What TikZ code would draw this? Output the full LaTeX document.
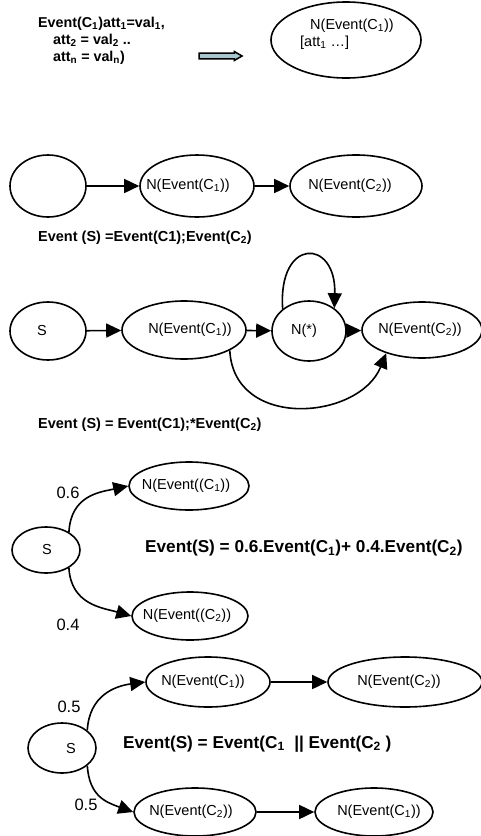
\documentclass[tikz,border=0pt]{standalone}
\usepackage{fontspec}
\setmainfont{Liberation Sans}
\usetikzlibrary{shapes.geometric,shapes.arrows,arrows.meta}
\definecolor{arrfill}{HTML}{A8C6CE}
\newcommand{\sub}[1]{\textsubscript{#1}}
\newcommand{\evt}[1]{N(Event(C\sub{#1}))}
\newcommand{\ctr}[2][0pt]{\makebox[0pt]{\hspace*{#1}\hspace*{#1}#2}}

\begin{document}
\begin{tikzpicture}[x=1pt,y=-1pt,
  ell/.style={draw,ellipse,line width=1.6pt,inner sep=0pt,font=\fontsize{14.5}{17}\selectfont},
  arr/.style={line width=1.6pt,-{Triangle[length=15pt,width=14pt]}},
  lab/.style={font=\bfseries\fontsize{14.5}{17}\selectfont,anchor=west,inner sep=0pt},
  biglab/.style={font=\bfseries\fontsize{17.2}{20}\selectfont,anchor=west,inner sep=0pt},
  num/.style={font=\fontsize{16.5}{20}\selectfont,inner sep=0pt}]
  \useasboundingbox (0,0) rectangle (481,836);

  % event with its attributes
  \node[align=left,anchor=north west,inner sep=0pt,font=\bfseries\fontsize{14.3}{17}\selectfont] (attr) at (38,17)
    {Event(C\sub1)att\sub1=val\sub1,\\\hspace*{15pt}att\sub2 = val\sub2 ..\\\hspace*{15pt}att\sub n = val\sub n)};
  \node[single arrow,draw,line width=1.5pt,fill=arrfill,minimum height=43pt,minimum width=7.5pt,
    inner sep=2.2pt,single arrow head extend=1.5pt,single arrow tip angle=60] (impl) at (218,56) {};
  \node[ell,minimum width=150,minimum height=76] (ev) at (346,40) {};
  \node[anchor=west,align=left,inner sep=0pt,font=\fontsize{14.5}{17}\selectfont] (evtxt) at (300,34)
    {\hspace*{10pt}\evt1\\{}[att\sub1 …]};

  % sequence
  \node[ell,minimum width=76,minimum height=62] (a1) at (48,186) {};
  \node[ell,minimum width=114,minimum height=62] (a2) at (197,186) {\ctr[-9pt]{\evt1}};
  \node[ell,minimum width=132,minimum height=62] (a3) at (356,186) {\ctr[-6pt]{\evt2}};
  \draw[arr] (a1) -- (a2);
  \draw[arr] (a2) -- (a3);
  \node[lab] (seq) at (38,238) {Event (S) =Event(C1);Event(C\sub2)};

  % iteration
  \node[ell,minimum width=76,minimum height=58] (b1) at (48,331) {\ctr[-6pt]{S}};
  \node[ell,minimum width=124,minimum height=58] (b2) at (184,330) {\ctr[6pt]{\evt1}};
  \node[ell,minimum width=74,minimum height=60] (b3) at (309,331) {\ctr[-5pt]{N(*)}};
  \node[ell,minimum width=120,minimum height=56] (b4) at (422,330) {\ctr[-2pt]{\evt2}};
  \draw[arr] (b1) -- (b2);
  \draw[arr] (b2) -- (b3);
  \draw[arr] (b3) -- (b4);
  \draw[arr] (b3.140) .. controls +(-5,-72) and +(2,-70) .. (b3.42);
  \draw[arr] (b2.-24) .. controls +(4,80) and +(-27,67) .. (b4.213);
  \node[lab] (star) at (38,425) {Event (S) = Event(C1);*Event(C\sub2)};

  % choice
  \node[ell,minimum width=68,minimum height=46] (c1) at (46,550) {\ctr[1pt]{\raisebox{-3pt}{S}}};
  \node[ell,minimum width=120,minimum height=48] (c2) at (189,486) {\ctr[-3pt]{N(Event((C\sub1))}};
  \node[ell,minimum width=116,minimum height=48] (c3) at (190,616) {\ctr[-3pt]{N(Event((C\sub2))}};
  \draw[arr] (c1.38) .. controls +(2,-37) and +(-28,6) .. (c2.west);
  \draw[arr] (c1.-38) .. controls +(2,37) and +(-28,-8) .. (c3.west);
  \node[num] (p6) at (68,493) {0.6};
  \node[num] (p4) at (68,625) {0.4};
  \node[biglab] (sum) at (145,548) {Event(S) = 0.6.Event(C\sub1)+ 0.4.Event(C\sub2)};

  % parallel
  \node[ell,minimum width=68,minimum height=50] (d1) at (62,748) {\ctr[9pt]{\raisebox{-5pt}{S}}};
  \node[ell,minimum width=124,minimum height=50] (d2) at (208,682) {\ctr[-5pt]{\evt1}};
  \node[ell,minimum width=154,minimum height=50] (d3) at (405,682) {\ctr[-6pt]{\evt2}};
  \node[ell,minimum width=122,minimum height=48] (d4) at (195,812) {\ctr[-4pt]{\evt2}};
  \node[ell,minimum width=118,minimum height=48] (d5) at (374,812) {\ctr[5pt]{\evt1}};
  \draw[arr] (d2) -- (d3);
  \draw[arr] (d4) -- (d5);
  \draw[arr] (d1.35) .. controls +(2,-35) and +(-30,4) .. (d2.west);
  \draw[arr] (d1.-35) .. controls +(2,30) and +(-28,-10) .. (d4.west);
  \node[num] (q1) at (69,707) {0.5};
  \node[num] (q2) at (86,805) {0.5};
  \node[biglab] (par) at (123,744) {Event(S) = Event(C\sub1~~|| Event(C\sub2~)};
\end{tikzpicture}
\end{document}
